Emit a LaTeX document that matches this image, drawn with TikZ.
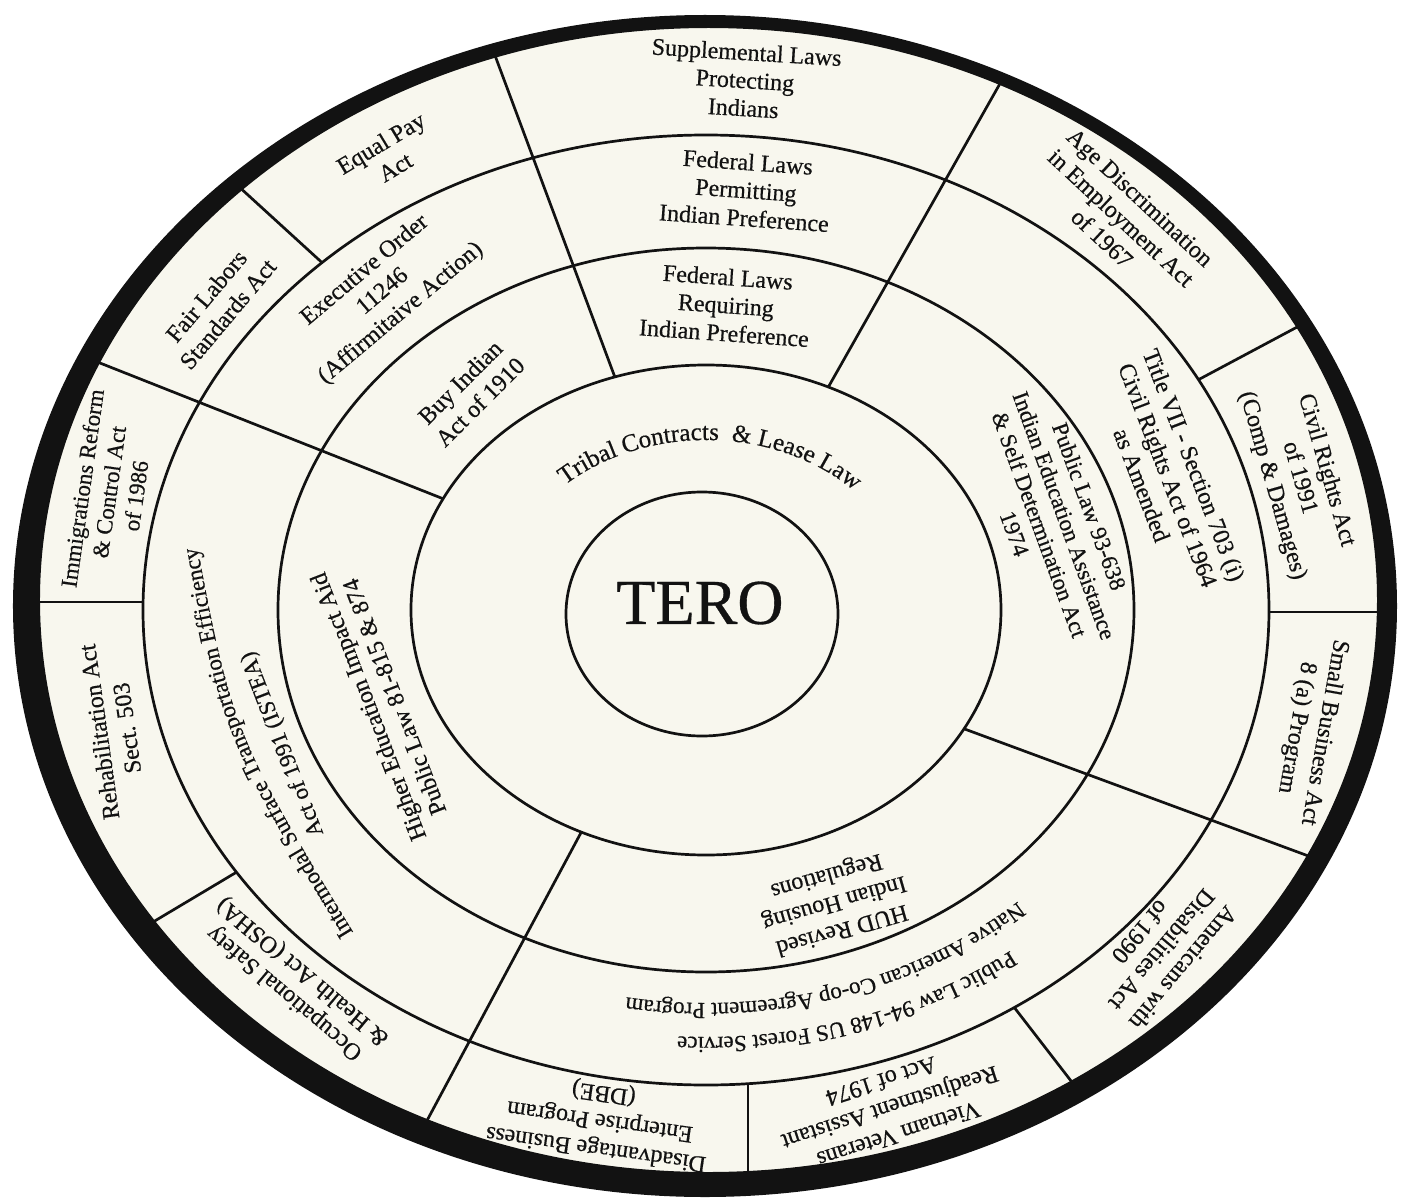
\documentclass[tikz,border=0pt]{standalone}
\usepackage{fontspec}
\setmainfont{Liberation Serif}[FakeBold=0.5]
\usetikzlibrary{decorations.text}
\definecolor{paper}{RGB}{248,247,238}
\definecolor{ink}{RGB}{18,18,18}
\begin{document}
\begin{tikzpicture}[x=1pt,y=1pt,
  ringline/.style={draw=ink, line width=2.7pt},
  divline/.style={draw=ink, line width=2.7pt},
  lbl/.style={align=center, font=\fontsize{24}{28}\selectfont, text=ink, inner sep=0pt},
  curvelbl/.style={decorate, decoration={text along path, text align=center, text color=ink}},
]
\useasboundingbox (-706,-593) rectangle (696,610);
\fill[white] (-706,-593) rectangle (696,610);
% paper disc
\fill[paper] (0,4) ellipse[x radius=685pt, y radius=585pt];

% rings
\draw[ringline] (-4,-4) ellipse[x radius=136pt, y radius=122pt];
\draw[ringline] (0,0) ellipse[x radius=295pt, y radius=245pt];
\draw[ringline] (0,0) ellipse[x radius=428pt, y radius=362pt];
\draw[ringline] (0,0) ellipse[x radius=563pt, y radius=475pt];

% long dividers (outer edge to ring 2)
\coordinate (bO) at (108:685pt and 585pt);   \coordinate (bI) at (108:295pt and 245pt);
\coordinate (cO) at (64.5:685pt and 585pt);  \coordinate (cI) at (65.5:295pt and 245pt);
\coordinate (fO) at (-25.5:685pt and 585pt); \coordinate (fI) at (-29:295pt and 245pt);
\coordinate (iO) at (-115:685pt and 585pt);  \coordinate (iI) at (-115:295pt and 245pt);
\coordinate (lO) at (154.5:685pt and 585pt); \coordinate (lI) at (153:295pt and 245pt);
\draw[divline] (bO) -- (bI);
\draw[divline] (cO) -- (cI);
\draw[divline] (fO) -- (fI);
\draw[divline] (iO) -- (iI);
\draw[divline] (lO) -- (lI);

% short dividers (outer ring only)
\coordinate (aO) at (133.3:685pt and 585pt); \coordinate (aI) at (133:563pt and 475pt);
\coordinate (dO) at (29.3:685pt and 585pt);  \coordinate (dI) at (29:563pt and 475pt);
\coordinate (eO) at (680,-2);                \coordinate (eI) at (563,-2);
\coordinate (gO) at (-56.5:685pt and 585pt); \coordinate (gI) at (-56.8:563pt and 475pt);
\coordinate (hO) at (42,-572);               \coordinate (hI) at (42,-474);
\coordinate (jO) at (-146.5:685pt and 585pt);\coordinate (jI) at (-146.5:563pt and 475pt);
\coordinate (kO) at (-678,8);                \coordinate (kI) at (-563,8);
\draw[divline] (aO) -- (aI);
\draw[divline] (dO) -- (dI);
\draw[divline] (eO) -- (eI);
\draw[divline] (gO) -- (gI);
\draw[divline] (hO) -- (hI);
\draw[divline] (jO) -- (jI);
\draw[divline] (kO) -- (kI);

% centre
\node[lbl, font=\fontsize{64}{64}\selectfont] (tero) at (-6,7) {TERO};

% ring 2 curved text
\path[curvelbl, decoration={text={|\fontsize{25}{30}\selectfont|Tribal Contracts {\ }{\&} Lease Law}}]
  (152:208pt and 170pt) arc[start angle=152, end angle=25, x radius=208pt, y radius=170pt];

% ring 3
\node[lbl, rotate=-4] (freq) at (20,305) {Federal Laws\\Requiring\\Indian Preference};
\node[lbl, rotate=45] (buy) at (-236,218) {Buy Indian\\Act of 1910};
\node[lbl, rotate=-70, font=\fontsize{23}{26.5}\selectfont] (pl93) at (346,90) {Public Law 93-638\\Indian Education Assistance\\\& Self Determination Act\\1974};
\node[lbl, rotate=196] (hud) at (128,-292) {HUD Revised\\Indian Housing\\Regulations};
\node[lbl, rotate=111] (higher) at (-325,-92) {Higher Education Impact Aid\\Public Law 81-815 \& 874};

% ring 4
\node[lbl, rotate=-4] (fperm) at (40,420) {Federal Laws\\Permitting\\Indian Preference};
\node[lbl, rotate=40] (exec) at (-323,318) {Executive Order\\11246\\(Affirmitaive Action)};
\node[lbl, rotate=-69] (title) at (462,135) {Title VII - Section 703 (i)\\Civil Rights Act of 1964\\as Amended};
\path[curvelbl, decoration={text={|\fontsize{23}{27}\selectfont|Intermodal Surface Transportation Efficiency}}]
  (-337,-348) .. controls (-474,-124) .. (-514,92);
\node[lbl, rotate=111, font=\fontsize{23}{27}\selectfont] (istea) at (-423,-134) {Act of 1991 (ISTEA)};
\path[curvelbl, decoration={text={|\fontsize{23}{27}\selectfont|Native American Co-op Agreement Program}}]
  (-26:465pt and 393pt) arc[start angle=-26, end angle=-120, x radius=465pt, y radius=393pt];
\path[curvelbl, decoration={text={|\fontsize{23}{27}\selectfont|Public Law 94-148 US Forest Service}}]
  (-25:505pt and 427pt) arc[start angle=-25, end angle=-119, x radius=505pt, y radius=427pt];

% outer ring
\node[lbl, rotate=-3.5] (supp) at (39,530) {Supplemental Laws\\Protecting\\Indians};
\node[lbl, rotate=31] (equal) at (-318,455) {Equal Pay\\Act};
\node[lbl, rotate=50] (fair) at (-489,305) {Fair Labors\\Standards Act};
\node[lbl, rotate=82, font=\fontsize{23}{27}\selectfont] (immig) at (-597,118) {Immigrations Reform\\\& Control Act\\of 1986};
\node[lbl, rotate=98] (rehab) at (-593,-120) {Rehabilitation Act\\Sect. 503};
\node[lbl, rotate=140] (osha) at (-412,-372) {Occupational Safety\\\& Health Act (OSHA)};
\node[lbl, rotate=172] (dbe) at (-106,-510) {Disadvantage Business\\Enterprise Program\\(DBE)};
\node[lbl, rotate=198] (viet) at (184,-498) {Vietnam Veterans\\Readjustment Assistant\\Act of 1974};
\node[lbl, rotate=-130] (amer) at (456,-340) {Americans with\\Disabilities Act\\of 1990};
\node[lbl, rotate=-100] (small) at (604,-120) {Small Business Act\\8 (a) Program};
\node[lbl, rotate=-74] (civil) at (593,132) {Civil Rights Act\\of 1991\\(Comp \& Damages)};
\node[lbl, rotate=-43] (age) at (415,392) {Age Discrimination\\in Employment Act\\of 1967};

% thick rim (thicker at the sides and bottom)
\fill[ink, even odd rule] (-1,4) ellipse[x radius=692pt, y radius=591pt]
  (2.5,10) ellipse[x radius=668.5pt, y radius=572pt];
\end{tikzpicture}
\end{document}
